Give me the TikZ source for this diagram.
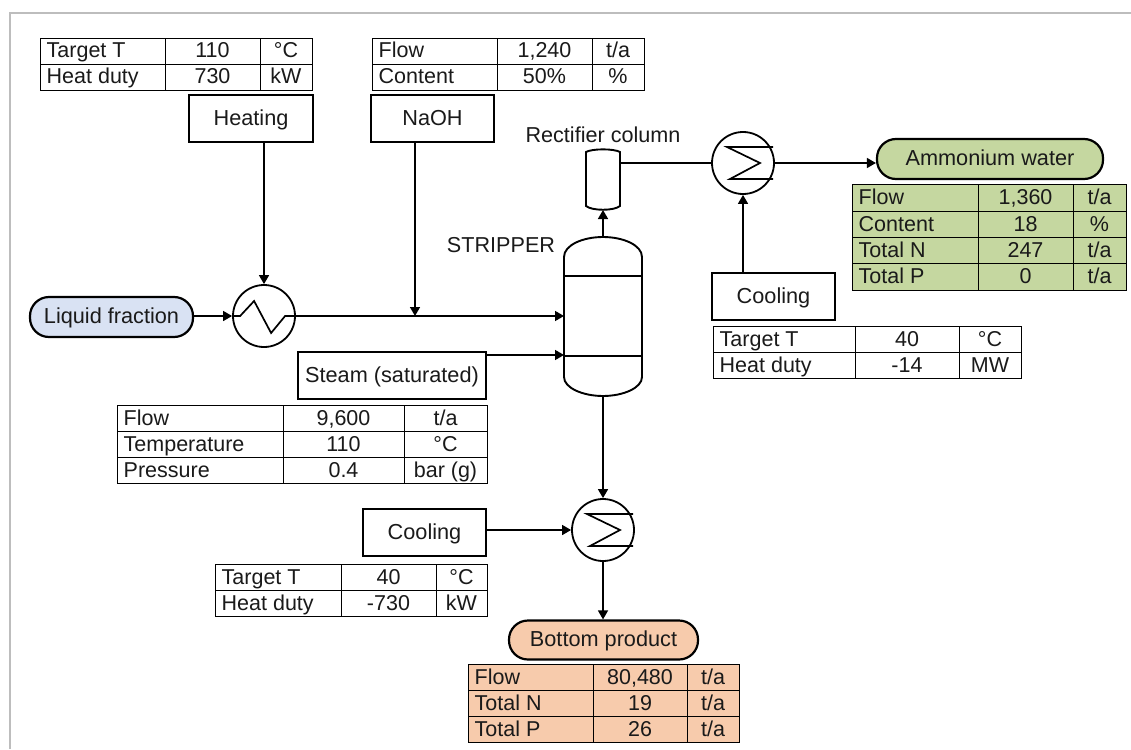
\documentclass[tikz,border=0pt]{standalone}
\usepackage{fontspec}
\setmainfont{Liberation Sans}
\usetikzlibrary{arrows.meta,calc}
\definecolor{inkc}{HTML}{1A1A1A}
\definecolor{bluef}{HTML}{D9E2F3}
\definecolor{greenf}{HTML}{C5D7A0}
\definecolor{orangef}{HTML}{F7CBAC}
\definecolor{framec}{HTML}{BDBDBD}
\newcount\cellno
% x0 x1 x2 x3 y0 y1 fill label value unit
\newcommand{\tabrow}[9]{%
  \global\advance\cellno by 1
  \draw[gridline,fill=#7] (#1,#5) rectangle (#2,#6);
  \draw[gridline,fill=#7] (#2,#5) rectangle (#3,#6);
  \draw[gridline,fill=#7] (#3,#5) rectangle (#4,#6);
  \node[celltext,anchor=west] (r\the\cellno a) at ({#1+6.5},{(#5+#6)/2}) {#8};
  \node[celltext] (r\the\cellno b) at ({(#2+#3)/2},{(#5+#6)/2}) {#9};
  \rowunit{#3}{#4}{#5}{#6}}
\newcommand{\rowunit}[5]{\node[celltext] (r\the\cellno c) at ({(#1+#2)/2},{(#3+#4)/2}) {#5};}
\tikzset{
  gridline/.style={draw=black,line width=0.95pt},
  celltext/.style={inner sep=0pt,text height=17pt,text depth=3pt,text=inkc,font=\fontsize{21.5}{24}\selectfont},
  boxnode/.style={draw=black,line width=2.2pt,fill=white,inner sep=0pt,text=inkc,font=\fontsize{21.7}{24}\selectfont,text height=17pt,text depth=3pt},
  endnode/.style={boxnode,rounded corners=19pt,text height=16pt},
  hxnode/.style={draw=black,line width=1.8pt,circle,minimum size=62pt,inner sep=0pt,fill=white},
  flow/.style={draw=black,line width=1.5pt},
  flowa/.style={flow,-{Triangle[length=9pt,width=10pt]}},
  vessel/.style={draw=black,line width=1.9pt},
  symbol/.style={draw=black,line width=1.7pt},
  plain/.style={inner sep=0pt,text=inkc,font=\fontsize{21.6}{24}\selectfont},
  ghost/.style={inner sep=0pt,outer sep=0pt,draw=none}
}
\begin{document}
\begin{tikzpicture}[x=1pt,y=-1pt]
\useasboundingbox (0,0) rectangle (1131,749);
\fill[white] (0,0) rectangle (1131,749);
\draw[framec,line width=2pt] (10,749) -- (10,13) -- (1131,13);

% Tables
\tabrow{40}{165}{260}{312}{38}{64}{white}{Target T}{110}{°C}
\tabrow{40}{165}{260}{312}{64}{90}{white}{Heat duty}{730}{kW}
\tabrow{372}{497}{592}{644}{38}{64}{white}{Flow}{1,240}{t/a}
\tabrow{372}{497}{592}{644}{64}{90}{white}{Content}{50\%}{\%}
\tabrow{117}{283}{404}{487}{405}{431}{white}{Flow}{9,600}{t/a}
\tabrow{117}{283}{404}{487}{431}{457}{white}{Temperature}{110}{°C}
\tabrow{117}{283}{404}{487}{457}{483}{white}{Pressure}{0.4}{bar (g)}
\tabrow{713}{855}{959}{1021}{326}{352}{white}{Target T}{40}{°C}
\tabrow{713}{855}{959}{1021}{352}{378}{white}{Heat duty}{-14}{MW}
\tabrow{215}{341}{436}{487}{564}{590}{white}{Target T}{40}{°C}
\tabrow{215}{341}{436}{487}{590}{616}{white}{Heat duty}{-730}{kW}
\tabrow{852}{978}{1073}{1126}{184}{211}{greenf}{Flow}{1,360}{t/a}
\tabrow{852}{978}{1073}{1126}{211}{237}{greenf}{Content}{18}{\%}
\tabrow{852}{978}{1073}{1126}{237}{263}{greenf}{Total N}{247}{t/a}
\tabrow{852}{978}{1073}{1126}{263}{290}{greenf}{Total P}{0}{t/a}
\tabrow{468}{593}{687}{739}{664}{690}{orangef}{Flow}{80,480}{t/a}
\tabrow{468}{593}{687}{739}{690}{716}{orangef}{Total N}{19}{t/a}
\tabrow{468}{593}{687}{739}{716}{742}{orangef}{Total P}{26}{t/a}

% Boxes
\node[boxnode,minimum width=124pt,minimum height=47pt] (heating) at (251,118.5) {Heating};
\node[boxnode,minimum width=123pt,minimum height=47pt] (naoh) at (432.5,118.5) {NaOH};
\node[boxnode,minimum width=188pt,minimum height=47pt] (steam) at (392,375.5) {Steam (saturated)};
\node[boxnode,minimum width=123pt,minimum height=47pt] (coolA) at (773.5,296.5) {Cooling};
\node[boxnode,minimum width=123pt,minimum height=47pt] (coolB) at (424.5,532.5) {Cooling};

% Terminals
\node[endnode,fill=bluef,minimum width=163pt,minimum height=40pt] (liquid) at (111.5,317) {Liquid fraction};
\node[endnode,fill=greenf,minimum width=226pt,minimum height=40pt] (ammonium) at (990,159) {Ammonium water};
\node[endnode,fill=orangef,minimum width=189pt,minimum height=39pt] (bottom) at (603.5,640) {Bottom product};

% Heat exchangers
\node[hxnode] (hxA) at (264,316) {};
\node[hxnode] (hxB) at (743,163) {};
\node[hxnode] (hxC) at (603,530) {};
\draw[symbol] (hxA.west) -- ++(8,0) -- ++(14,-15) -- ++(17,32) -- ++(14,-17) -- (hxA.east);
\draw[symbol] ($(hxB.center)+(30,-16)$) -- ++(-46,0) -- ++(33,16) -- ++(-30,16) -- ++(43,0);
\draw[symbol] ($(hxC.center)+(30,-16)$) -- ++(-46,0) -- ++(33,16) -- ++(-30,16) -- ++(43,0);

% Vessels
\node[ghost,minimum width=78pt,minimum height=159pt] (stripper) at (603,316.5) {};
\node[ghost,minimum width=34pt,minimum height=63pt] (rectifier) at (603,178.5) {};
\draw[vessel] (564,257) .. controls (564,245) and (583,237) .. (603,237) .. controls (623,237) and (642,245) .. (642,257)
  -- (642,377) .. controls (642,388) and (623,396) .. (603,396) .. controls (583,396) and (564,388) .. (564,377) -- cycle;
\draw[vessel] (564,276) -- (642,276);
\draw[vessel] (564,356) -- (642,356);
\draw[vessel] (586,152) .. controls (592,148.5) and (614,148.5) .. (620,152) -- (620,206)
  .. controls (614,211) and (592,211) .. (586,206) -- cycle;

% Labels
\node[plain] (rectlabel) at (603,135) {Rectifier column};
\node[plain] (striplabel) at (501,245) {STRIPPER};

% Connectors
\coordinate (steamout) at (486,355);
\coordinate (naohjoin) at (415,316);
\coordinate (naohtop) at (415,142);
\draw[flowa] (heating.south -| hxA.north) -- (hxA.north);
\draw[flowa] (liquid.east |- hxA.west) -- (hxA.west);
\draw[flowa] (hxA.east) -- (hxA.east -| stripper.west);
\draw[flowa] (naohtop) -- (naohjoin);
\draw[flowa] (steamout) -- (steamout -| stripper.west);
\draw[flowa] (stripper.north) -- (rectifier.south);
\draw[flow] (rectifier.east |- hxB.west) -- (hxB.west);
\draw[flowa] (hxB.east) -- (hxB.east -| ammonium.west);
\draw[flowa] (coolA.north -| hxB.south) -- (hxB.south);
\draw[flowa] (stripper.south) -- (hxC.north);
\draw[flowa] (coolB.east |- hxC.west) -- (hxC.west);
\draw[flowa] (hxC.south) -- (hxC.south |- bottom.north);
\end{tikzpicture}
\end{document}
